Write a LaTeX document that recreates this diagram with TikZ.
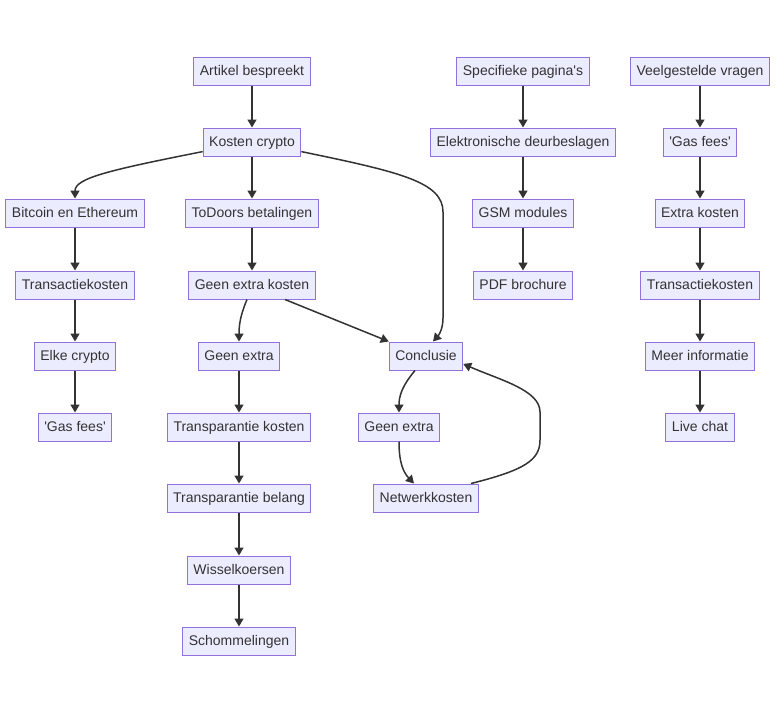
\documentclass[tikz,border=0pt]{standalone}
\usepackage{fontspec}
\setmainfont{Liberation Sans}
\usetikzlibrary{arrows.meta}
\definecolor{boxfill}{HTML}{ECECFF}
\definecolor{boxline}{HTML}{9370DB}
\definecolor{ink}{HTML}{333333}
\newcommand{\sq}{\textquotesingle}
\tikzset{
  box/.style={draw=boxline,fill=boxfill,line width=1pt,text=ink,
    minimum height=28pt,inner xsep=6pt,inner ysep=0pt,
    text height=11.5pt,text depth=3pt,
    font=\fontsize{14}{16}\selectfont},
  arr/.style={draw=ink,line width=1.5pt,-{Triangle[length=8pt,width=9pt]}}
}
\begin{document}
\begin{tikzpicture}[x=1pt,y=-1pt]
\useasboundingbox (0,0) rectangle (784,713);
% first column group
\node[box] (artikel) at (252,71) {Artikel bespreekt};
\node[box] (kosten) at (252,142) {Kosten crypto};
\node[box] (bitcoin) at (75,213) {Bitcoin en Ethereum};
\node[box] (todoors) at (252,213) {ToDoors betalingen};
\node[box] (transA) at (75,285) {Transactiekosten};
\node[box] (geenkosten) at (252,285) {Geen extra kosten};
\node[box] (elke) at (75,356) {Elke crypto};
\node[box] (geenA) at (239,356) {Geen extra};
\node[box] (conclusie) at (426,356) {Conclusie};
\node[box] (gasA) at (75,427) {\sq Gas fees\sq};
\node[box] (transkosten) at (239,427) {Transparantie kosten};
\node[box] (geenB) at (399,427) {Geen extra};
\node[box] (transbelang) at (239,498) {Transparantie belang};
\node[box] (netwerk) at (426,498) {Netwerkkosten};
\node[box] (wissel) at (239,570) {Wisselkoersen};
\node[box] (schommel) at (239,641) {Schommelingen};
% pagina's
\node[box] (pagina) at (523,71) {Specifieke pagina\sq s};
\node[box] (deur) at (523,142) {Elektronische deurbeslagen};
\node[box] (gsm) at (523,213) {GSM modules};
\node[box] (pdf) at (523,285) {PDF brochure};
% vragen
\node[box] (vragen) at (700,71) {Veelgestelde vragen};
\node[box] (gasB) at (700,142) {\sq Gas fees\sq};
\node[box] (extra) at (700,213) {Extra kosten};
\node[box] (transB) at (700,285) {Transactiekosten};
\node[box] (meer) at (700,356) {Meer informatie};
\node[box] (chat) at (700,427) {Live chat};

% straight edges
\foreach \a/\b in {artikel/kosten,kosten/todoors,todoors/geenkosten,
  bitcoin/transA,transA/elke,elke/gasA,
  geenA/transkosten,transkosten/transbelang,transbelang/wissel,wissel/schommel,
  pagina/deur,deur/gsm,gsm/pdf,
  vragen/gasB,gasB/extra,extra/transB,transB/meer,meer/chat}
  \draw[arr] (\a) -- (\b);
% curved edges
\draw[arr] (kosten.191) .. controls (110,170) and (75,178) .. (bitcoin.north);
\draw[arr] (kosten.349) .. controls (400,172) and (443,182) .. (443,212)
  -- (443,318) .. controls (443,330) and (438,336) .. ([xshift=7pt]conclusie.north);
\draw[arr] ([xshift=-5pt]geenkosten.south) .. controls (240,316) and (239,326) .. (geenA.north);
\draw[arr] ([xshift=33pt]geenkosten.south) -- (conclusie.north west);
\draw[arr] ([xshift=-11pt]conclusie.south) .. controls (402,386) and (399,396) .. (geenB.north);
\draw[arr] (geenB.south) .. controls (399,462) and (403,472) .. ([xshift=-12pt]netwerk.north);
\draw[arr] ([xshift=45pt]netwerk.north) .. controls (525,470) and (540,460) .. (540,440)
  -- (540,412) .. controls (540,390) and (500,380) .. (conclusie.-12);
\end{tikzpicture}
\end{document}
